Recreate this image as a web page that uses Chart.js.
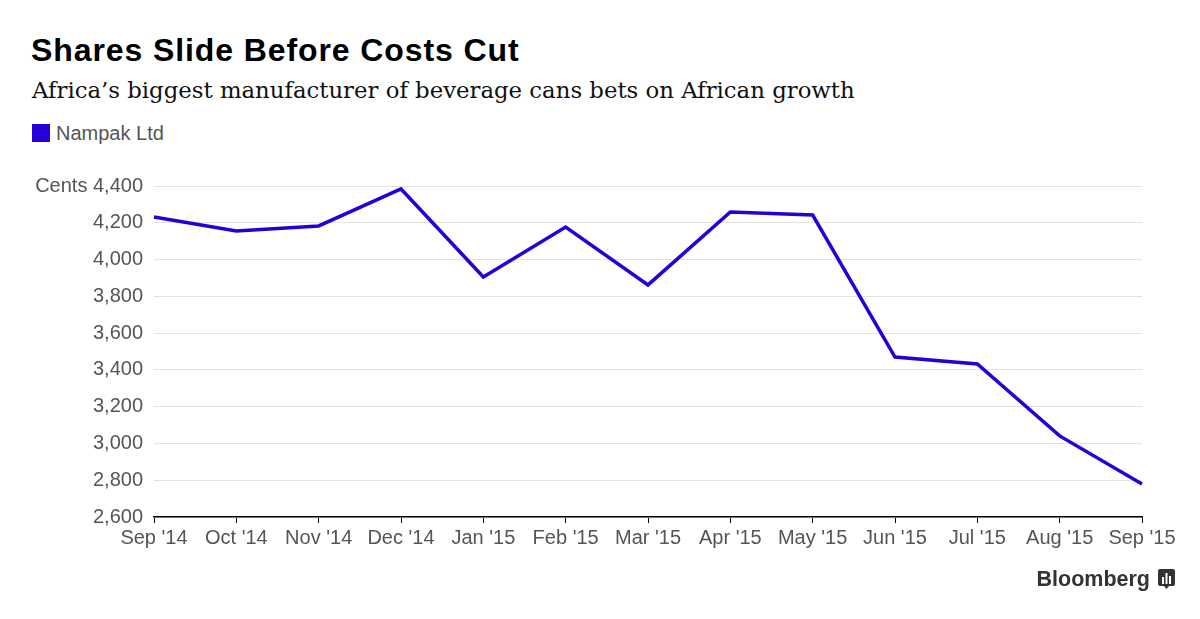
<!DOCTYPE html>
<html lang="en">
<head>
<meta charset="UTF-8">
<title>Shares Slide Before Costs Cut</title>
<script src="https://cdn.jsdelivr.net/npm/chart.js"></script>
<style>
    body {
        margin: 0;
        width: 1200px;
        height: 619px;
        background: #fff;
        position: relative;
        overflow: hidden;
        font-family: "Liberation Sans", Arial, sans-serif;
    }
    .title {
        position: absolute;
        left: 31px;
        top: 32px;
        font-size: 32px;
        font-weight: bold;
        color: #000;
        letter-spacing: 0.9px;
    }
    .subtitle {
        position: absolute;
        left: 32px;
        top: 77px;
        font-family: "DejaVu Serif", serif;
        font-size: 22.8px;
        color: #111;
    }
    .legend {
        position: absolute;
        left: 32px;
        top: 122px;
        font-size: 20px;
        color: #555;
    }
    .legend span.box {
        display: inline-block;
        width: 18px;
        height: 18px;
        background: #2800d7;
        vertical-align: -2px;
        margin-right: 6px;
    }
    .brand {
        position: absolute;
        right: 25px;
        top: 567px;
        font-size: 21.5px;
        font-weight: bold;
        color: #333;
    }
    .brand svg {
        vertical-align: -3px;
        margin-left: 8px;
    }
    #chart {
        position: absolute;
        left: 0;
        top: 0;
    }
</style>
</head>
<body>
    <div class="title">Shares Slide Before Costs Cut</div>
    <div class="subtitle">Africa’s biggest manufacturer of beverage cans bets on African growth</div>
    <div class="legend"><span class="box"></span>Nampak Ltd</div>
    <canvas id="chart" width="1200" height="619"></canvas>
    <div class="brand">Bloomberg<svg width="17" height="20" viewBox="0 0 17 20">
        <rect x="0" y="0" width="17" height="17" rx="2" fill="#333"/>
        <polygon points="6,17 11,17 8.5,20" fill="#333"/>
        <rect x="4" y="8" width="2" height="7" fill="#fff"/>
        <rect x="7.5" y="4" width="2" height="11" fill="#fff"/>
        <rect x="11" y="7" width="2" height="8" fill="#fff"/>
    </svg></div>

<script>
    const months = ["Sep '14", "Oct '14", "Nov '14", "Dec '14", "Jan '15", "Feb '15", "Mar '15",
        "Apr '15", "May '15", "Jun '15", "Jul '15", "Aug '15", "Sep '15"];
    const nampak = [4231, 4155, 4183, 4384, 3905, 4177, 3862, 4259, 4242, 3470, 3432, 3041, 2780];
    const yTicks = [2600, 2800, 3000, 3200, 3400, 3600, 3800, 4000, 4200, 4400];

    Chart.defaults.font.family = '"Liberation Sans", Arial, sans-serif';
    Chart.defaults.font.size = 20;
    Chart.defaults.color = '#555';

    new Chart(document.getElementById('chart'), {
        type: 'line',
        data: {
            labels: months,
            datasets: [{
                label: 'Nampak Ltd',
                data: nampak,
                borderColor: '#2800d7',
                borderWidth: 3.5,
                pointRadius: 0,
                tension: 0,
                fill: false
            }]
        },
        options: {
            responsive: false,
            animation: false,
            layout: { padding: { top: 186, right: 58, left: 0, bottom: 0 } },
            plugins: {
                legend: { display: false },
                tooltip: { enabled: false }
            },
            scales: {
                x: {
                    offset: false,
                    grid: {
                        drawOnChartArea: false,
                        drawTicks: true,
                        tickLength: 6,
                        color: '#000'
                    },
                    border: { color: '#000', width: 1.5 },
                    ticks: { padding: 3, maxRotation: 0, autoSkip: false },
                    afterFit: function (scale) { scale.height = 102; }
                },
                y: {
                    min: 2600,
                    max: 4400,
                    afterBuildTicks: function (scale) {
                        scale.ticks = yTicks.map(v => ({ value: v }));
                    },
                    grid: { color: '#e2e2e2', drawTicks: false },
                    border: { display: false },
                    ticks: {
                        padding: 11,
                        callback: function (v) {
                            const s = v.toLocaleString('en-US');
                            return v === 4400 ? 'Cents ' + s : s;
                        }
                    },
                    afterFit: function (scale) { scale.width = 154; }
                }
            }
        }
    });
</script>
</body>
</html>
